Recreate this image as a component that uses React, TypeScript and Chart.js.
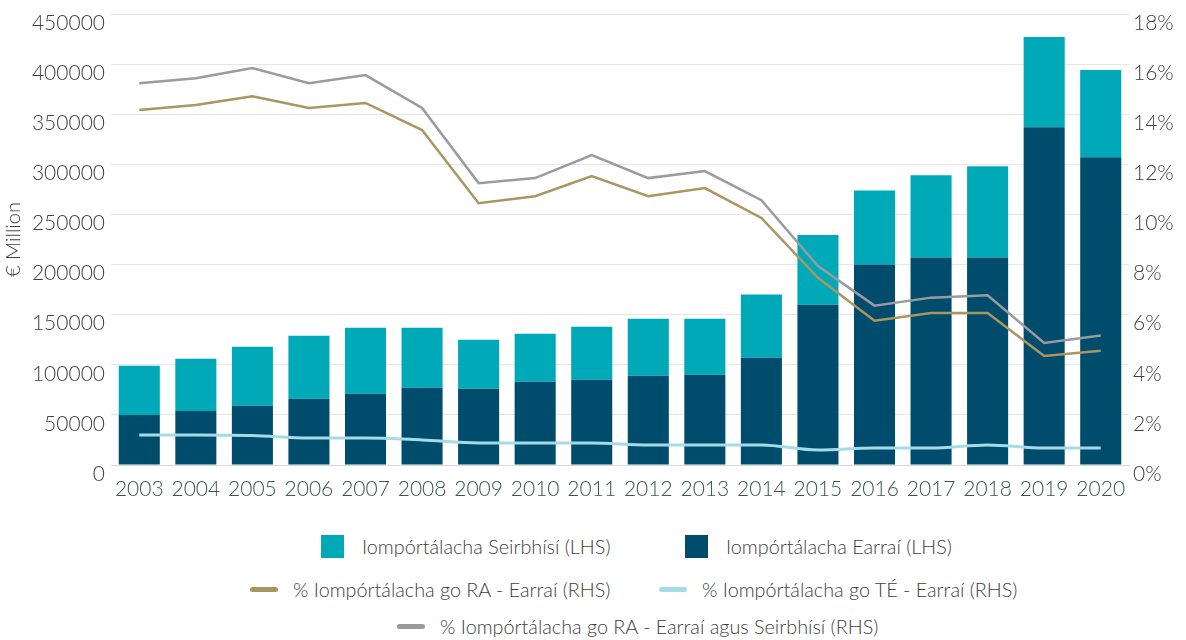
import React, { useEffect, useRef } from "react";
import { Chart, registerables } from "chart.js";

Chart.register(...registerables);

const years = ["2003","2004","2005","2006","2007","2008","2009","2010","2011","2012","2013","2014","2015","2016","2017","2018","2019","2020"];
const goodsImports = [50000,54000,59000,66000,71000,77000,76000,83000,85000,89000,90000,107000,160000,200000,207000,207000,337000,307000];
const servicesImports = [49000,52000,59000,63000,66000,60000,49000,48000,53000,57000,56000,63000,69500,74000,82000,91000,90000,87000];
const ukGoodsPct = [14.17,14.37,14.72,14.25,14.45,13.37,10.45,10.73,11.53,10.73,11.05,9.86,7.47,5.76,6.07,6.07,4.35,4.56];
const euGoodsPct = [1.2,1.2,1.18,1.08,1.08,1.0,0.88,0.88,0.88,0.8,0.8,0.8,0.6,0.68,0.68,0.8,0.68,0.68];
const ukTotalPct = [15.24,15.44,15.84,15.24,15.56,14.25,11.25,11.45,12.37,11.45,11.73,10.57,7.94,6.36,6.68,6.77,4.87,5.17];
const leftTicks = [0,50000,100000,150000,200000,250000,300000,350000,400000,450000];
const rightTicks = [0,2,4,6,8,10,12,14,16,18];

const TEAL = "#00a9b8";
const DARK = "#004c6c";
const GOLD = "#ab9560";
const LIGHT = "#a5dbe7";
const GREY = "#9a9a9f";
const FONT = "Lato, 'Open Sans', sans-serif";

export default function App() {
  const ref = useRef<HTMLCanvasElement | null>(null);
  useEffect(() => {
    document.body.style.margin = "0";
    if (!ref.current) return;
    const chart = new Chart(ref.current, {
      type: "bar",
      data: {
        labels: years,
        datasets: [
          { type: "line", label: "% Iompórtálacha go RA - Earraí (RHS)", data: ukGoodsPct, borderColor: GOLD, backgroundColor: GOLD, borderWidth: 2.5, pointRadius: 0, yAxisID: "y1", order: 0, tension: 0 },
          { type: "line", label: "% Iompórtálacha go TÉ - Earraí (RHS)", data: euGoodsPct, borderColor: LIGHT, backgroundColor: LIGHT, borderWidth: 3, pointRadius: 0, yAxisID: "y1", order: 0, tension: 0.4, cubicInterpolationMode: "monotone" },
          { type: "line", label: "% Iompórtálacha go RA - Earraí agus Seirbhísí (RHS)", data: ukTotalPct, borderColor: GREY, backgroundColor: GREY, borderWidth: 2.5, pointRadius: 0, yAxisID: "y1", order: 0, tension: 0 },
          { type: "bar", label: "Iompórtálacha Earraí (LHS)", data: goodsImports, backgroundColor: DARK, yAxisID: "y", stack: "s", order: 2, barPercentage: 0.726, categoryPercentage: 1 },
          { type: "bar", label: "Iompórtálacha Seirbhísí (LHS)", data: servicesImports, backgroundColor: TEAL, yAxisID: "y", stack: "s", order: 2, barPercentage: 0.726, categoryPercentage: 1 },
        ],
      },
      options: {
        animation: false,
        responsive: false,
        maintainAspectRatio: false,
        layout: { padding: { top: 14, left: 0, right: 0, bottom: 0 } },
        plugins: { legend: { display: false }, tooltip: { enabled: false } },
        scales: {
          x: {
            stacked: true,
            grid: { display: false, drawTicks: false },
            border: { display: true, color: "#d9d9d9", width: 1 },
            ticks: { color: "#3b554f", font: { family: FONT, size: 21, weight: 300 }, padding: 12, maxRotation: 0, autoSkip: false },
            afterFit: (s: any) => { s.height = 50; },
          },
          y: {
            stacked: true,
            position: "left",
            min: 0,
            max: 450000,
            afterBuildTicks: (s: any) => { s.ticks = leftTicks.map((v) => ({ value: v })); },
            grid: { color: "#e6e6e6", lineWidth: 1, drawTicks: false },
            border: { display: false },
            ticks: { color: "#404040", font: { family: FONT, size: 21, weight: 300 }, padding: 6, labelOffset: 9, callback: (v: any) => String(v) },
            title: { display: true, text: "€ Million", color: "#404040", font: { family: FONT, size: 20, weight: 300 }, padding: { top: 2, bottom: 0 } },
            afterFit: (s: any) => { s.width = 111; s.paddingTop = 0; s.paddingBottom = 0; },
          },
          y1: {
            position: "right",
            min: 0,
            max: 18,
            afterBuildTicks: (s: any) => { s.ticks = rightTicks.map((v) => ({ value: v })); },
            grid: { display: false, drawTicks: false },
            border: { display: false },
            ticks: { color: "#404040", font: { family: FONT, size: 21, weight: 300 }, padding: 4, labelOffset: 9, callback: (v: any) => v + "%" },
            afterFit: (s: any) => { s.width = 57; s.paddingTop = 0; s.paddingBottom = 0; },
          },
        },
      },
    });
    return () => chart.destroy();
  }, []);

  const textStyle: React.CSSProperties = { fontFamily: FONT, fontWeight: 300, fontSize: 19.8, color: "#404040", whiteSpace: "nowrap" };
  const box = (c: string): React.CSSProperties => ({ width: 23, height: 23, background: c, display: "inline-block" });
  const dash = (c: string): React.CSSProperties => ({ width: 28, height: 5, borderRadius: 3, background: c, display: "inline-block" });
  const item = (left: number, top: number, marker: React.CSSProperties, gap: number, text: string) => (
    <div style={{ position: "absolute", left, top, display: "flex", alignItems: "center", height: 24 }}>
      <span style={marker} />
      <span style={{ ...textStyle, marginLeft: gap }}>{text}</span>
    </div>
  );

  return (
    <div style={{ position: "relative", width: 1186, height: 640, background: "#fff" }}>
      <canvas ref={ref} width={1186} height={515} style={{ position: "absolute", left: 0, top: 0, width: 1186, height: 515 }} />
      {item(321, 534, box(TEAL), 18, "Iompórtálacha Seirbhísí (LHS)")}
      {item(685, 534, box(DARK), 18, "Iompórtálacha Earraí (LHS)")}
      {item(250, 577, dash(GOLD), 15, "% Iompórtálacha go RA - Earraí (RHS)")}
      {item(659, 577, dash(LIGHT), 15, "% Iompórtálacha go TÉ - Earraí (RHS)")}
      {item(397, 614, dash(GREY), 15, "% Iompórtálacha go RA - Earraí agus Seirbhísí (RHS)")}
    </div>
  );
}
